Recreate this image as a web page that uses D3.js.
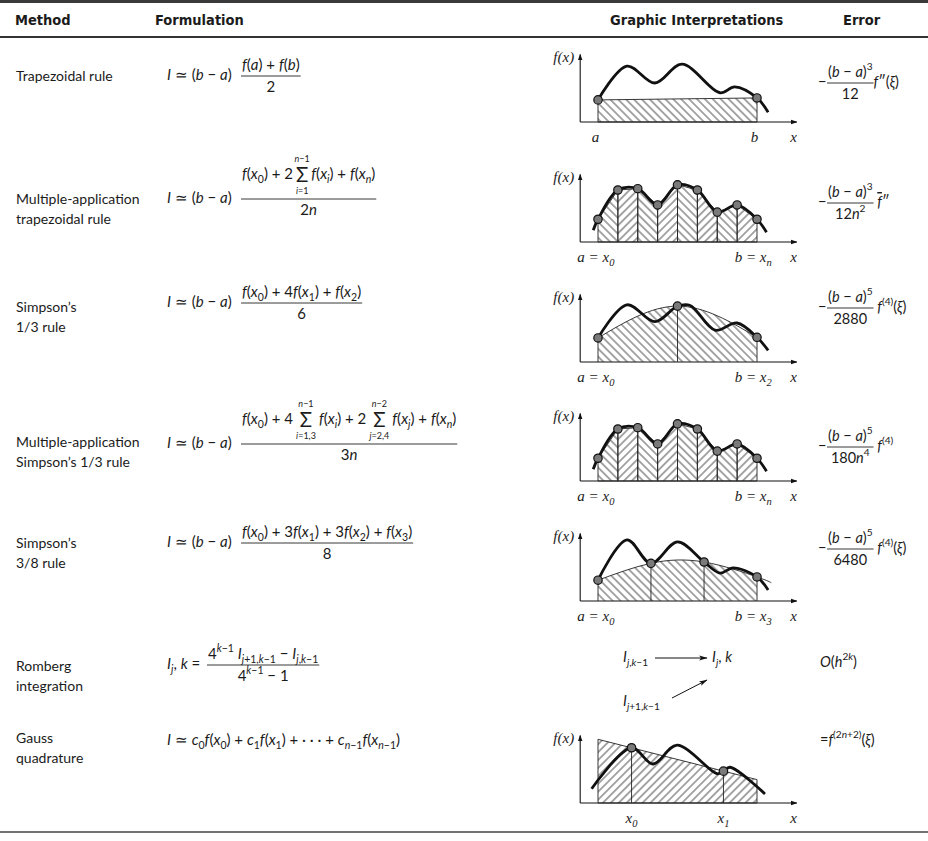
<!DOCTYPE html>
<html>
<head>
<meta charset="utf-8">
<style>
  body { margin: 0; background: #fff; }
  text { fill: #1b1b1b; white-space: pre; }
  .head { font-family: "DejaVu Sans Condensed", "DejaVu Sans"; font-weight: bold; font-size: 14.5px; }
  .lab { font-family: Lato, "Noto Sans"; font-size: 14px; }
  .m { font-family: Lato, "Noto Sans"; font-size: 15px; }
  .g { font-family: "Liberation Serif"; font-style: italic; font-size: 15px; }
  .thin { fill: none; stroke: #222; stroke-width: 0.9px; }
  .thick { fill: none; stroke: #111; stroke-width: 2.8px; }
  .axis { fill: none; stroke: #111; stroke-width: 1.1px; }
  .dot { fill: #7a7a7a; stroke: #111; stroke-width: 1.2px; }
</style>
</head>
<body>
<svg id="chart" width="928" height="841"></svg>
<script src="https://cdn.jsdelivr.net/npm/d3@7/dist/d3.min.js"></script>
<script>
// ---- table text ----
var headers = ['Method', 'Formulation', 'Graphic Interpretations', 'Error'];
var methods = [
  ['Trapezoidal rule'],
  ['Multiple-application', 'trapezoidal rule'],
  ['Simpson\u2019s', '1/3 rule'],
  ['Multiple-application', 'Simpson\u2019s 1/3 rule'],
  ['Simpson\u2019s', '3/8 rule'],
  ['Romberg', 'integration'],
  ['Gauss', 'quadrature']
];
var leads = ['I ≃ (b − a)', 'I ≃ (b − a)', 'I ≃ (b − a)', 'I ≃ (b − a)', 'I ≃ (b − a)', 'I_j, k =',
  'I ≃ c_0f(x_0) + c_1f(x_1) + · · · + c_{n−1}f(x_{n−1})'];
// a nested pair [upper, lower] stands for a summation sign with limits
var formulaNum = [
  ['f(a) + f(b)'],
  ['f(x_0) + 2', ['n−1', 'i=1'], 'f(x_i) + f(x_n)'],
  ['f(x_0) + 4f(x_1) + f(x_2)'],
  ['f(x_0) + 4 ', ['n−1', 'i=1,3'], ' f(x_i) + 2 ', ['n−2', 'j=2,4'], ' f(x_j) + f(x_n)'],
  ['f(x_0) + 3f(x_1) + 3f(x_2) + f(x_3)'],
  ['4^{k−1} I_{j+1,k−1} − I_{j,k−1}'],
  null
];
var formulaDen = ['2', '2n', '6', '3n', '8', '4^{k−1} − 1', null];
var errorNum = ['(b − a)^3', '(b − a)^3', '(b − a)^5', '(b − a)^5', '(b − a)^5', null, null];
var errorDen = ['12', '12n^2', '2880', '180n^4', '6480', null, null];
var errorTail = ['f″(ξ)', ' f″', ' f^{(4)}(ξ)', ' f^{(4)}', ' f^{(4)}(ξ)', 'O(h^{2k})', '=f^{(2n+2)}(ξ)'];

// ---- graph data: x in units of [a, b] = [0, 10], y in units of panel height ----
var trapX = [0, 1.82, 3.58, 5.28, 7.67, 8.6, 10, 10.7];
var trapY = [3.4, 8.6, 6.0, 8.9, 4.5, 5.4, 3.7, 1.5];
var trapNodeX = [0, 10];
var trapNodeY = [3.4, 3.7];

var multiX = [-0.3, 0, 1.25, 2.5, 3.75, 5, 6.25, 7.5, 8.75, 10, 10.6];
var multiY = [1.8, 3.5, 8.0, 8.2, 5.7, 8.8, 8.0, 4.6, 5.7, 3.5, 1.5];
var multiNodeX = [0, 1.25, 2.5, 3.75, 5, 6.25, 7.5, 8.75, 10];
var multiNodeY = [3.5, 8.0, 8.2, 5.7, 8.8, 8.0, 4.6, 5.7, 3.5];

var s13X = [0, 1.82, 3.58, 5, 5.8, 7.36, 8.74, 10, 10.7];
var s13Y = [3.7, 8.8, 6.2, 8.6, 8.7, 4.9, 6.0, 3.8, 1.8];
var s13NodeX = [0, 5, 10];
var s13NodeY = [3.7, 8.6, 3.8];

var s38X = [0, 1.82, 3.33, 5.0, 6.67, 7.67, 8.5, 10, 10.7];
var s38Y = [3.2, 9.4, 5.8, 9.1, 6.0, 4.3, 5.1, 3.7, 1.7];
var s38NodeX = [0, 3.33, 6.67, 10];
var s38NodeY = [3.2, 5.8, 6.0, 3.7];
var s38FitX = [0, 3.33, 6.67, 10, 10.9];
var s38FitY = [3.2, 5.8, 6.0, 3.7, 2.8];

var gaussX = [-0.4, 2.11, 3.46, 4.97, 7.5, 7.89, 8.3, 10.5];
var gaussY = [2.2, 8.5, 6.0, 8.9, 4.5, 4.9, 5.5, 1.4];
var gaussNodeX = [2.11, 7.89];
var gaussNodeY = [8.5, 4.9];
var gaussLineX = [0, 10];
var gaussLineY = [9.8, 3.6];

// ---- layout ----
var labelY = [81, 204, 312, 447, 548, 671, 743];
var barY = [76, 199, 303, 444, 543, 665, 745];
var axisY = [122, 242, 362, 481, 601, null, 803];
var errY = [83, 203, 308, 447, 549, 663, 741];

var svg = d3.select('#chart');
svg.append('rect').attr('width', 928).attr('height', 841).attr('fill', '#fff');
var defs = svg.append('defs');

function hatch(id, angle, gap) {
  var p = defs.append('pattern').attr('id', id).attr('patternUnits', 'userSpaceOnUse')
    .attr('width', gap).attr('height', gap).attr('patternTransform', 'rotate(' + angle + ')');
  p.append('line').attr('x1', gap / 2).attr('y1', 0).attr('x2', gap / 2).attr('y2', gap)
    .attr('stroke', '#222').attr('stroke-width', 0.8);
}
hatch('back', -45, 5.6);
hatch('fwd', 45, 5.6);
defs.append('marker').attr('id', 'arr').attr('viewBox', '0 0 10 10').attr('refX', 9).attr('refY', 5)
  .attr('markerWidth', 6).attr('markerHeight', 6).attr('orient', 'auto')
  .append('path').attr('d', 'M0,1.5L10,5L0,8.5Z').attr('fill', '#111');
defs.append('marker').attr('id', 'arr2').attr('viewBox', '0 0 14 10').attr('refX', 13).attr('refY', 5)
  .attr('markerWidth', 10).attr('markerHeight', 6).attr('orient', 'auto')
  .append('path').attr('d', 'M0,1L14,5L0,9L3,5Z').attr('fill', '#111');

// text with _sub and ^sup, letters in italics
function rich(t, str, fs) {
  var shift = 0, buf = '', i = 0;
  function run(s, kind) {
    var size = kind ? fs * 0.7 : fs;
    var target = kind === 'sub' ? fs * 0.28 : kind === 'sup' ? -fs * 0.45 : 0;
    var parts = s.match(/[A-Za-zξ]+|[^A-Za-zξ]+/g) || [];
    parts.forEach(function (p, k) {
      var ts = t.append('tspan').attr('font-size', size).text(p);
      if (/[A-Za-zξ]/.test(p)) ts.attr('font-style', 'italic');
      if (k === 0 && target !== shift) ts.attr('dy', target - shift);
    });
    shift = target;
  }
  while (i < str.length) {
    var c = str[i];
    if (c === '_' || c === '^') {
      if (buf) { run(buf, null); buf = ''; }
      var content;
      if (str[i + 1] === '{') { var j = str.indexOf('}', i); content = str.slice(i + 2, j); i = j + 1; }
      else { content = str[i + 1]; i += 2; }
      run(content, c === '_' ? 'sub' : 'sup');
    } else { buf += c; i++; }
  }
  if (buf) run(buf, null);
  return t;
}
function txt(cls, x, y, str, fs, anchor) {
  var t = svg.append('text').attr('class', cls).attr('x', x).attr('y', y).attr('xml:space', 'preserve');
  if (anchor) t.attr('text-anchor', anchor);
  return rich(t, str, fs);
}
function mathRow(x, y, items, fs) {
  var cx = x;
  items.forEach(function (it) {
    if (typeof it === 'string') {
      var t = txt('m', cx, y, it, fs);
      cx += t.node().getComputedTextLength();
    } else {
      var s = svg.append('text').attr('class', 'm').attr('x', cx + 3).attr('y', y + 3)
        .style('font-size', (fs * 1.35) + 'px').text('Σ');
      var w = s.node().getComputedTextLength();
      var mid = cx + 3 + w / 2;
      txt('m', mid, y - 17, it[0], 9, 'middle');
      txt('m', mid, y + 15, it[1], 9, 'middle');
      cx += w + 6;
    }
  });
  return cx;
}
function frac(x, bar, num, den, fs, numY) {
  var end = mathRow(x, numY, num, fs);
  svg.append('line').attr('x1', x - 1).attr('x2', end + 1).attr('y1', bar).attr('y2', bar)
    .attr('stroke', '#222').attr('stroke-width', 0.9);
  txt('m', (x + end) / 2, bar + 16, den, fs, 'middle');
  return end;
}

// ---- header and rules ----
svg.append('rect').attr('x', 0).attr('y', 0).attr('width', 928).attr('height', 3).attr('fill', '#3a3a3a');
var headerX = [15, 155, 610, 843];
headers.forEach(function (h, i) {
  svg.append('text').attr('class', 'head').attr('x', headerX[i]).attr('y', 25).text(h);
});
svg.append('line').attr('x1', 0).attr('x2', 928).attr('y1', 37).attr('y2', 37).attr('stroke', '#333').attr('stroke-width', 2);
svg.append('line').attr('x1', 0).attr('x2', 928).attr('y1', 832).attr('y2', 832).attr('stroke', '#444').attr('stroke-width', 1.5);

// ---- method column ----
methods.forEach(function (lines, i) {
  lines.forEach(function (s, k) {
    svg.append('text').attr('class', 'lab').attr('x', 16).attr('y', labelY[i] + k * 20).text(s);
  });
});

// ---- formulation column ----
leads.forEach(function (s, i) {
  var b = barY[i];
  if (i === 6) { txt('m', 167, b, s, 15); return; }
  txt('m', 167, b + 4, s, 15);
  var hasSum = formulaNum[i].some(function (d) { return Array.isArray(d); });
  var start = i === 5 ? 208 : 242;
  frac(start, b, formulaNum[i], formulaDen[i], 15, hasSum ? b - 20 : b - 6);
});

// ---- error column ----
errorTail.forEach(function (tail, i) {
  var b = errY[i];
  if (!errorNum[i]) { txt('m', 820, b + 4, tail, 14.5); return; }
  txt('m', 818, b + 4, '−', 14.5);
  var end = frac(828, b, [errorNum[i]], errorDen[i], 14.5, b - 6);
  var t = txt('m', end + 1, b + 4, tail, 14.5);
  if (i === 1) t.selectAll('tspan').filter(function () { return this.textContent === 'f'; })
    .style('text-decoration', 'overline');
});

// ---- graphic interpretations ----
var xs = d3.scaleLinear().domain([0, 10]).range([598, 757]);
function pts(X, Y) { return X.map(function (v, i) { return [v, Y[i]]; }); }

function panel(ay, labels) {
  var y = d3.scaleLinear().domain([0, 10]).range([ay, ay - 65]);
  var line = d3.line().x(function (d) { return xs(d[0]); }).y(function (d) { return y(d[1]); });
  var smooth = d3.line().curve(d3.curveCatmullRom.alpha(0.5)).x(function (d) { return xs(d[0]); }).y(function (d) { return y(d[1]); });
  var natural = d3.line().curve(d3.curveNatural).x(function (d) { return xs(d[0]); }).y(function (d) { return y(d[1]); });
  var g = svg.append('g');
  var p = { y: y, line: line, smooth: smooth, natural: natural, g: g };
  p.axes = function () {
    g.append('path').attr('class', 'axis').attr('d', line([[-1.12, 0], [-1.12, 10.4]])).attr('marker-end', 'url(#arr)');
    g.append('path').attr('class', 'axis').attr('d', line([[-1.12, 0], [12.5, 0]])).attr('marker-end', 'url(#arr)');
    txt('g', xs(-1.5), y(9.2), 'f(x)', 15, 'end');
    labels.concat([[12.3, 'x', 'middle']]).forEach(function (l) {
      txt('g', xs(l[0]), ay + 20, l[1], 15, l[2]);
    });
  };
  p.curve = function (X, Y) {
    g.append('path').attr('class', 'thick').attr('d', smooth(pts(X, Y)));
  };
  p.dots = function (X, Y) {
    g.selectAll(null).data(pts(X, Y)).enter().append('circle').attr('class', 'dot')
      .attr('cx', function (d) { return xs(d[0]); }).attr('cy', function (d) { return y(d[1]); }).attr('r', 4.2);
  };
  p.vlines = function (X, Y) {
    g.selectAll(null).data(pts(X, Y)).enter().append('line').attr('class', 'thin')
      .attr('x1', function (d) { return xs(d[0]); }).attr('x2', function (d) { return xs(d[0]); })
      .attr('y1', y(0)).attr('y2', function (d) { return y(d[1]); });
  };
  return p;
}

// 1 trapezoidal
var p1 = panel(axisY[0], [[-0.15, 'a', 'middle'], [9.85, 'b', 'middle']]);
p1.axes();
var trapNodes = pts(trapNodeX, trapNodeY);
p1.g.append('path').attr('class', 'thin').style('fill', 'url(#back)')
  .attr('d', p1.line([[trapNodeX[0], 0]].concat(trapNodes, [[trapNodeX[1], 0]])) + 'Z');
p1.curve(trapX, trapY);
p1.dots(trapNodeX, trapNodeY);

// 2 and 4 multiple application
[[1, 'b = x_n'], [3, 'b = x_n']].forEach(function (r) {
  var p = panel(axisY[r[0]], [[-1.3, 'a = x_0', 'start'], [8.6, r[1], 'start']]);
  p.axes();
  var nodes = pts(multiNodeX, multiNodeY);
  d3.pairs(nodes).forEach(function (pr, k) {
    p.g.append('path').attr('class', 'thin').style('fill', k % 2 ? 'url(#fwd)' : 'url(#back)')
      .attr('d', p.line([[pr[0][0], 0], pr[0], pr[1], [pr[1][0], 0]]) + 'Z');
  });
  p.curve(multiX, multiY);
  p.dots(multiNodeX, multiNodeY);
});

// 3 Simpson 1/3
var p3 = panel(axisY[2], [[-1.3, 'a = x_0', 'start'], [8.6, 'b = x_2', 'start']]);
p3.axes();
var area3 = d3.area().curve(d3.curveNatural).x(function (d) { return xs(d[0]); })
  .y0(p3.y(0)).y1(function (d) { return p3.y(d[1]); });
p3.g.append('path').style('fill', 'url(#back)').attr('d', area3(pts(s13NodeX, s13NodeY)));
p3.g.append('path').attr('class', 'thin').attr('d', p3.natural(pts(s13NodeX, s13NodeY)));
p3.vlines(s13NodeX, s13NodeY);
p3.curve(s13X, s13Y);
p3.dots(s13NodeX, s13NodeY);

// 5 Simpson 3/8
var p5 = panel(axisY[4], [[-1.3, 'a = x_0', 'start'], [8.6, 'b = x_3', 'start']]);
p5.axes();
defs.append('clipPath').attr('id', 'clip5').append('rect')
  .attr('x', xs(0)).attr('width', xs(10) - xs(0)).attr('y', p5.y(10.5)).attr('height', p5.y(0) - p5.y(10.5));
var area5 = d3.area().curve(d3.curveNatural).x(function (d) { return xs(d[0]); })
  .y0(p5.y(0)).y1(function (d) { return p5.y(d[1]); });
p5.g.append('path').style('fill', 'url(#back)').attr('clip-path', 'url(#clip5)').attr('d', area5(pts(s38FitX, s38FitY)));
p5.g.append('path').attr('class', 'thin').attr('d', p5.natural(pts(s38FitX, s38FitY)));
p5.vlines(s38NodeX, s38NodeY);
p5.curve(s38X, s38Y);
p5.dots(s38NodeX, s38NodeY);

// 6 Romberg scheme
txt('m', 623, 662, 'I_{j,k−1}', 14.5);
svg.append('line').attr('x1', 655).attr('y1', 658).attr('x2', 707).attr('y2', 658)
  .attr('stroke', '#111').attr('stroke-width', 1).attr('marker-end', 'url(#arr2)');
txt('m', 712, 662, 'I_j, k', 14.5);
txt('m', 623, 706, 'I_{j+1,k−1}', 14.5);
svg.append('line').attr('x1', 672).attr('y1', 698).attr('x2', 707).attr('y2', 680)
  .attr('stroke', '#111').attr('stroke-width', 1).attr('marker-end', 'url(#arr2)');

// 7 Gauss quadrature
var p7 = panel(axisY[6], [[gaussNodeX[0], 'x_0', 'middle'], [gaussNodeX[1], 'x_1', 'middle']]);
p7.axes();
var gl = pts(gaussLineX, gaussLineY);
p7.g.append('path').attr('class', 'thin').style('fill', 'url(#fwd)')
  .attr('d', p7.line([[gaussLineX[0], 0]].concat(gl, [[gaussLineX[1], 0]])) + 'Z');
p7.vlines(gaussNodeX, gaussNodeY);
p7.curve(gaussX, gaussY);
p7.dots(gaussNodeX, gaussNodeY);
</script>
</body>
</html>
